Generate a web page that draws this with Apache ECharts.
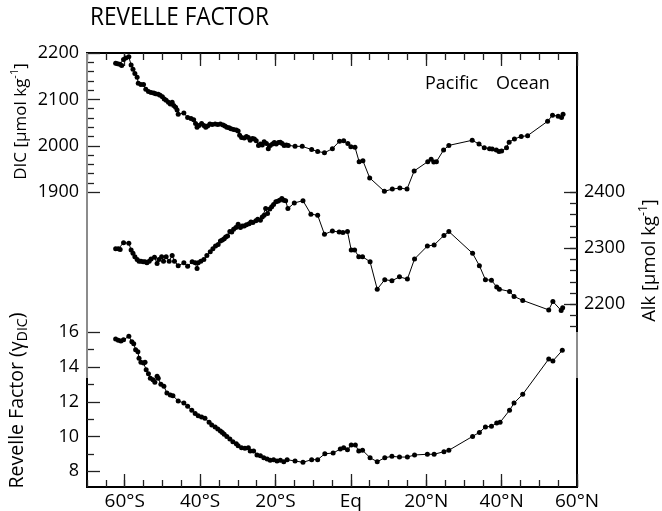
<!DOCTYPE html>
<html><head><meta charset="utf-8">
<script src="https://cdn.jsdelivr.net/npm/echarts@6/dist/echarts.min.js"></script>
<style>html,body{margin:0;padding:0;background:#fff}#c{width:662px;height:511px}</style>
</head><body><div id="c"></div>
<script>
// ---- tick labels ----
const latTicks = [-60, -40, -20, 0, 20, 40, 60];
const alkTicks = [2200, 2300, 2400];

// ---- DIC (top, left axis) ----
const dicLat = [-62.4,-61.9,-61.3,-60.8,-60.3,-59.7,-58.9,-58.3,-57.8,-57.3,-56.7,-56.4,-55.7,-55.0,-54.4,-53.7,-53.0,-52.3,-51.8,-51.1,-50.6,-50.0,-49.5,-49.0,-48.4,-47.9,-47.4,-47.0,-46.5,-46.1,-45.8,-44.3,-43.3,-42.4,-41.7,-41.2,-40.8,-40.3,-39.6,-39.0,-38.5,-38.0,-37.4,-36.8,-36.0,-35.3,-34.6,-33.9,-33.4,-32.9,-32.3,-31.8,-31.1,-30.4,-29.9,-29.5,-29.0,-28.3,-27.7,-27.2,-26.7,-26.1,-25.6,-25.1,-24.5,-24.0,-23.5,-23.0,-22.4,-21.9,-21.4,-20.8,-20.3,-19.8,-19.2,-18.7,-18.2,-17.7,-17.1,-16.6,-14.8,-12.9,-10.4,-8.8,-7.0,-4.9,-3.0,-1.9,-0.8,0.0,1.1,2.2,3.2,5.0,8.9,11.0,13.0,14.9,16.8,20.4,21.3,22.0,22.7,24.6,26.0,32.2,34.0,35.4,36.8,37.5,38.6,39.3,40.0,41.3,42.0,43.4,45.2,46.9,52.2,53.5,55.0,55.9,56.3];
const dicVal = [2178,2177,2176,2173,2186,2189,2192,2174,2165,2156,2148,2135,2132,2132,2122,2117,2115,2114,2112,2111,2109,2106,2101,2098,2094,2090,2094,2087,2083,2077,2068,2071,2061,2059,2056,2048,2040,2044,2048,2044,2040,2043,2047,2046,2047,2046,2047,2045,2043,2040,2039,2037,2035,2034,2032,2023,2018,2017,2020,2018,2012,2016,2015,2011,2001,2004,2002,2009,2005,1994,2001,2004,2007,2004,2007,2008,2005,2001,2002,2001,1999,1999,1992,1988,1985,1994,2010,2011,2005,1998,1997,1966,1968,1931,1902,1907,1909,1907,1946,1966,1971,1965,1966,1991,2001,2012,2004,1996,1994,1993,1991,1988,1989,1996,2008,2015,2020,2022,2053,2066,2064,2061,2068];

// ---- Alkalinity (middle, right axis) ----
const alkLat = [-62.4,-61.7,-61.2,-60.3,-58.9,-58.3,-57.8,-57.3,-56.7,-56.2,-55.7,-55.1,-54.6,-54.1,-53.5,-53.0,-52.1,-51.4,-50.9,-50.2,-49.7,-49.0,-48.2,-47.4,-46.8,-45.8,-44.3,-43.3,-42.1,-41.3,-40.8,-40.5,-39.8,-39.0,-38.2,-37.3,-36.6,-35.9,-35.2,-34.6,-34.1,-33.6,-33.2,-32.7,-32.1,-31.6,-31.1,-30.5,-29.9,-29.3,-28.8,-28.3,-27.7,-27.0,-26.5,-26.0,-25.2,-24.7,-24.0,-23.5,-23.0,-22.6,-22.1,-21.5,-21.0,-20.5,-19.9,-19.4,-18.9,-18.3,-17.8,-17.3,-16.7,-15.0,-12.7,-10.6,-8.8,-7.0,-4.9,-3.1,-2.1,-0.9,0.1,1.0,2.1,3.1,5.1,7.0,9.0,10.9,12.9,15.0,16.9,20.3,22.1,24.7,26.0,32.3,34.1,35.7,37.3,38.7,39.4,42.1,43.3,45.6,52.5,53.6,55.8,56.2];
const alkVal = [2299,2299,2298,2310,2309,2297,2291,2285,2280,2277,2277,2276,2276,2274,2277,2281,2284,2273,2280,2285,2277,2285,2277,2287,2277,2269,2274,2268,2276,2274,2264,2274,2277,2280,2287,2294,2299,2304,2307,2313,2315,2317,2320,2322,2330,2329,2334,2337,2343,2337,2340,2340,2342,2344,2347,2346,2349,2352,2350,2356,2359,2371,2362,2370,2374,2378,2383,2384,2386,2389,2386,2385,2371,2381,2385,2361,2359,2325,2331,2329,2328,2330,2297,2297,2285,2285,2276,2227,2244,2242,2249,2245,2281,2304,2306,2323,2330,2291,2269,2244,2243,2231,2227,2223,2214,2207,2190,2205,2189,2194];

// ---- Revelle factor (bottom, left axis) ----
const rfLat = [-62.4,-61.7,-61.0,-60.3,-58.9,-58.1,-57.6,-57.1,-56.5,-56.2,-55.7,-55.0,-54.6,-54.3,-53.7,-53.2,-52.5,-52.0,-51.4,-51.1,-50.4,-49.6,-48.8,-47.9,-47.2,-45.8,-44.3,-43.3,-42.2,-41.3,-40.5,-39.6,-38.7,-37.6,-36.9,-36.0,-35.3,-34.6,-34.1,-33.6,-32.9,-32.1,-31.3,-30.4,-29.9,-29.0,-28.1,-27.2,-26.7,-25.8,-24.9,-24.0,-23.1,-22.2,-21.4,-20.5,-19.6,-18.7,-17.8,-16.9,-14.8,-12.7,-10.4,-8.8,-6.9,-4.7,-2.8,-1.9,-0.9,0.1,1.2,2.1,3.1,5.1,7.0,9.0,10.9,12.9,15.0,16.9,20.3,22.1,24.7,26.0,32.3,34.1,35.7,37.3,38.7,39.6,42.1,43.3,45.6,52.5,53.6,56.1];
const rfVal = [15.61,15.54,15.50,15.57,15.77,15.46,15.34,15.00,14.88,14.50,14.27,14.23,14.27,13.85,13.62,13.35,13.27,13.12,13.47,13.35,13.01,12.89,12.51,12.39,12.35,12.05,11.93,11.74,11.51,11.32,11.20,11.13,11.05,10.82,10.66,10.55,10.43,10.32,10.24,10.13,10.01,9.86,9.70,9.59,9.47,9.36,9.32,9.36,9.17,9.17,8.94,8.90,8.78,8.71,8.63,8.67,8.59,8.63,8.55,8.67,8.59,8.52,8.67,8.67,9.01,9.05,9.28,9.36,9.24,9.51,9.51,9.17,9.21,8.78,8.55,8.78,8.86,8.82,8.82,8.94,8.98,8.98,9.13,9.21,10.01,10.24,10.55,10.59,10.78,10.82,11.51,11.93,12.43,14.46,14.35,14.96];

const pairs = (a, b) => a.map((v, i) => [v, b[i]]);
const FONT = 'Open Sans';
const L = 87, W = 490, TOP = 53, BOT = 487;
const tickStyle = { color: '#222', width: 1.3 };
const latFmt = v => v < 0 ? (-v) + '°S' : (v > 0 ? v + '°N' : 'Eq');
const plain = v => String(v);
const noLine = { show: false, onZero: false };

const grids = [
  { left: L, top: TOP, width: W, height: BOT - TOP, show: true, borderColor: '#000', borderWidth: 2, backgroundColor: 'transparent' },
  { left: L, top: TOP, width: W, height: BOT - TOP },
  { left: L, top: 53, width: W, height: 139.3 },      // DIC
  { left: L, top: 192.3, width: W, height: 134.4 },   // Alk minor
  { left: L, top: 192.3, width: W, height: 134.4 },   // Alk major
  { left: L, top: 332.3, width: W, height: 139 }      // RF
];
const xBase = { type: 'value', min: -70, max: 60, splitLine: { show: false }, axisLine: noLine };
const xAxes = [
  Object.assign({}, xBase, { gridIndex: 0, position: 'bottom', interval: 5,
    axisTick: { inside: true, length: 7, lineStyle: tickStyle },
    axisLabel: { customValues: latTicks, formatter: latFmt, fontFamily: FONT, fontSize: 19, color: '#000', margin: 5 } }),
  Object.assign({}, xBase, { gridIndex: 0, position: 'top', interval: 5,
    axisTick: { inside: true, length: 7, lineStyle: tickStyle }, axisLabel: { show: false } }),
  Object.assign({}, xBase, { gridIndex: 1, position: 'bottom',
    axisTick: { inside: true, length: 13, customValues: latTicks, lineStyle: tickStyle }, axisLabel: { show: false } }),
  Object.assign({}, xBase, { gridIndex: 1, position: 'top',
    axisTick: { inside: true, length: 13, customValues: latTicks, lineStyle: tickStyle }, axisLabel: { show: false } }),
  Object.assign({}, xBase, { gridIndex: 2, show: false }),
  Object.assign({}, xBase, { gridIndex: 3, show: false }),
  Object.assign({}, xBase, { gridIndex: 4, show: false }),
  Object.assign({}, xBase, { gridIndex: 5, show: false })
];
const lab = { fontFamily: FONT, fontSize: 18, color: '#000', formatter: plain };
const yAxes = [
  { gridIndex: 0, type: 'value', min: 0, max: 1, show: false, axisLine: noLine },
  { gridIndex: 1, type: 'value', min: 0, max: 1, show: false, axisLine: noLine },
  { gridIndex: 2, type: 'value', position: 'left', min: 1900, max: 2200, interval: 100,
    axisLine: noLine, splitLine: { show: false },
    axisTick: { inside: true, length: 13, lineStyle: tickStyle },
    minorTick: { show: true, splitNumber: 5, length: 7, lineStyle: tickStyle },
    axisLabel: Object.assign({ margin: 8 }, lab) },
  { gridIndex: 3, type: 'value', position: 'right', min: 2160, max: 2400, interval: 20,
    axisLine: noLine, splitLine: { show: false },
    axisTick: { inside: true, length: 7, lineStyle: tickStyle },
    axisLabel: Object.assign({ margin: 7, customValues: alkTicks }, lab) },
  { gridIndex: 4, type: 'value', position: 'right', min: 2160, max: 2400,
    axisLine: noLine, splitLine: { show: false },
    axisTick: { inside: true, length: 13, customValues: alkTicks, lineStyle: tickStyle },
    axisLabel: { show: false } },
  { gridIndex: 5, type: 'value', position: 'left', min: 8, max: 16, interval: 2,
    axisLine: noLine, splitLine: { show: false },
    axisTick: { inside: true, length: 13, lineStyle: tickStyle },
    minorTick: { show: true, splitNumber: 2, length: 7, lineStyle: tickStyle },
    axisLabel: Object.assign({ margin: 8 }, lab) }
];
const lineSeries = (data, xi, yi) => ({
  type: 'line', data, xAxisIndex: xi, yAxisIndex: yi, symbol: 'circle', symbolSize: 5,
  itemStyle: { color: '#000' }, lineStyle: { color: '#000', width: 1 }, clip: false, z: 5
});

function vtext(x, y, text, rich, fontSize) {
  return { type: 'text', x, y, rotation: Math.PI / 2, z: 50,
    style: { text, rich, fontFamily: FONT, fontSize, fill: '#000',
      align: 'center', verticalAlign: 'middle', textAlign: 'center', textVerticalAlign: 'middle' } };
}
const richUnit = (fs) => ({
  a: { fontFamily: FONT, fontSize: fs, lineHeight: fs + 6, fill: '#000', color: '#000' },
  s: { fontFamily: FONT, fontSize: Math.round(fs * 0.65), lineHeight: Math.round(fs * 0.65) + 1, verticalAlign: 'top', fill: '#000', color: '#000' },
  b: { fontFamily: FONT, fontSize: Math.round(fs * 0.7), lineHeight: Math.round(fs * 0.7) + 1, verticalAlign: 'bottom', fill: '#000', color: '#000' }
});

const chart = echarts.init(document.getElementById('c'), null, { renderer: 'canvas' });
chart.setOption({
  animation: false,
  backgroundColor: '#fff',
  grid: grids,
  xAxis: xAxes,
  yAxis: yAxes,
  series: [
    lineSeries(pairs(dicLat, dicVal), 4, 2),
    lineSeries(pairs(alkLat, alkVal), 5, 3),
    lineSeries(pairs(rfLat, rfVal), 7, 5)
  ],
  graphic: [
    { type: 'text', x: 90, y: 17.5, scaleX: 0.87, z: 50,
      style: { text: 'REVELLE FACTOR', fontFamily: FONT, fontSize: 26, fill: '#000',
        align: 'left', verticalAlign: 'middle', textAlign: 'left', textVerticalAlign: 'middle' } },
    { type: 'text', x: 425, y: 84, z: 50,
      style: { text: 'Pacific', fontFamily: FONT, fontSize: 18, fill: '#000', align: 'left', verticalAlign: 'middle', textAlign: 'left', textVerticalAlign: 'middle' } },
    { type: 'text', x: 496, y: 84, z: 50,
      style: { text: 'Ocean', fontFamily: FONT, fontSize: 18, fill: '#000', align: 'left', verticalAlign: 'middle', textAlign: 'left', textVerticalAlign: 'middle' } },
    vtext(21, 121.5, '{a|DIC [µmol kg}{s|-1}{a|]}', richUnit(17), 17),
    vtext(650, 260.5, '{a|Alk [µmol kg}{s|-1}{a|]}', richUnit(18.5), 18.5),
    vtext(17, 400.5, '{a|Revelle Factor (γ}{b|DIC}{a|)}', richUnit(19.5), 19.5),
    { type: 'line', z: 60, shape: { x1: L, y1: TOP, x2: L, y2: 378 }, style: { stroke: '#8c8c8c', lineWidth: 2 } },
    { type: 'line', z: 60, shape: { x1: L + W, y1: 332, x2: L + W, y2: 378 }, style: { stroke: '#8c8c8c', lineWidth: 2 } }
  ]
});
</script></body></html>
